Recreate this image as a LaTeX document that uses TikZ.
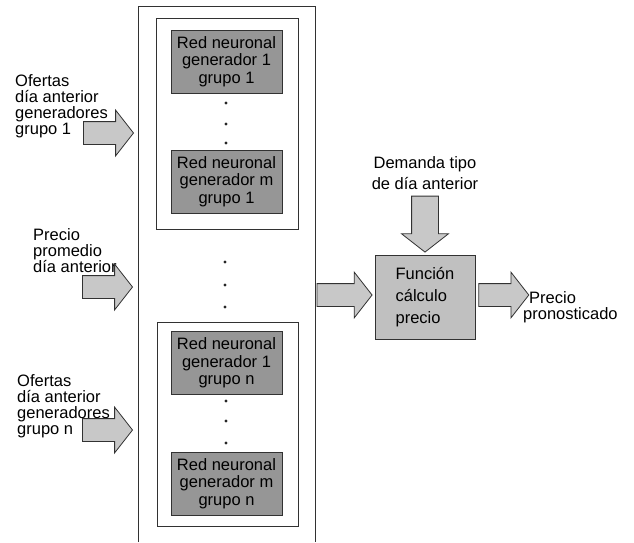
\documentclass[tikz,border=0pt]{standalone}
\usepackage{fontspec}
\setmainfont{Liberation Sans}
\usetikzlibrary{shapes.arrows,positioning}

\definecolor{redfill}{RGB}{150,150,150}
\definecolor{funcfill}{RGB}{192,192,192}
\definecolor{arrowfill}{RGB}{200,200,200}
\definecolor{linegray}{RGB}{50,50,50}

\begin{document}
\begin{tikzpicture}[x=1pt, y=-1pt,
  font=\fontsize{16.5}{16}\selectfont,
  redbox/.style={draw=linegray, line width=0.8pt, fill=redfill, align=center,
    minimum width=111pt, minimum height=63pt, inner sep=0pt,
    font=\fontsize{16.5}{17.5}\selectfont},
  grupobox/.style={draw=linegray, line width=0.8pt, fill=white, inner sep=0pt},
  funcbox/.style={draw=linegray, line width=0.8pt, fill=funcfill, align=left,
    minimum width=100pt, minimum height=84pt, inner sep=0pt,
    font=\fontsize{16.5}{22}\selectfont},
  blockarrow/.style={single arrow, draw=linegray, line width=0.8pt, fill=arrowfill,
    inner xsep=0pt, inner ysep=11pt, single arrow head extend=11.5pt,
    single arrow tip angle=104, minimum height=50pt},
  textin/.style={align=left, inner sep=0pt, anchor=north west}]

  \useasboundingbox (0,0) rectangle (634,542);

  % Outer frame (open at the bottom)
  \draw[linegray, line width=0.8pt] (138,542) -- (138,6) -- (315,6) -- (315,542);

  % Group 1
  \node[grupobox, minimum width=142pt, minimum height=211pt] (g1) at (227,123.5) {};
  \node[redbox] (r11) at (226.5,61.5) {Red neuronal\\generador 1\\grupo 1};
  \node[redbox] (rm1) at (226.5,181.5) {Red neuronal\\generador m\\grupo 1};
  \foreach \y in {103,124,143}
    \fill[black!85] (226,\y) circle (1.6pt);

  % Dots between groups
  \foreach \y in {262,285,307}
    \fill[black!85] (225,\y) circle (1.6pt);

  % Group n
  \node[grupobox, minimum width=141pt, minimum height=204pt] (gn) at (227.5,424) {};
  \node[redbox] (r1n) at (226.5,363) {Red neuronal\\generador 1\\grupo n};
  \node[redbox] (rmn) at (226.5,483.5) {Red neuronal\\generador m\\grupo n};
  \foreach \y in {401,421,443}
    \fill[black!85] (226,\y) circle (1.6pt);

  % Inputs
  \node[textin] (of1) at (15,74.5) {Ofertas\\día anterior\\generadores\\grupo 1};
  \node[textin] (pre) at (33,228.5) {Precio\\promedio\\día anterior};
  \node[textin] (ofn) at (17,374.5) {Ofertas\\día anterior\\generadores\\grupo n};

  \node[blockarrow, anchor=tip] (a1) at (134,133) {};
  \node[blockarrow, anchor=tip] (ap) at (133,287) {};
  \node[blockarrow, anchor=tip] (an) at (133,430) {};

  % Price function
  \node[funcbox] (func) at (425,297) {Función\\cálculo\\precio};
  \node[blockarrow, minimum height=55pt, anchor=tip] (ain) at ([shift={(-2,-2)}]func.west) {};
  \node[blockarrow, minimum height=56pt, inner ysep=13pt, single arrow head extend=10pt,
    rotate=-90, anchor=tip] (adem) at ([yshift=2pt]func.north) {};
  \node[align=center, inner sep=0pt, anchor=south, font=\fontsize{16.5}{21}\selectfont]
    (dem) at ([yshift=6pt]adem.tail) {Demanda tipo\\de día anterior};
  \node[blockarrow, anchor=tail] (aout) at ([shift={(3,-2)}]func.east) {};
  \node[textin] (out) at (523,291) {\hspace*{6pt}Precio\\pronosticado};
\end{tikzpicture}
\end{document}
